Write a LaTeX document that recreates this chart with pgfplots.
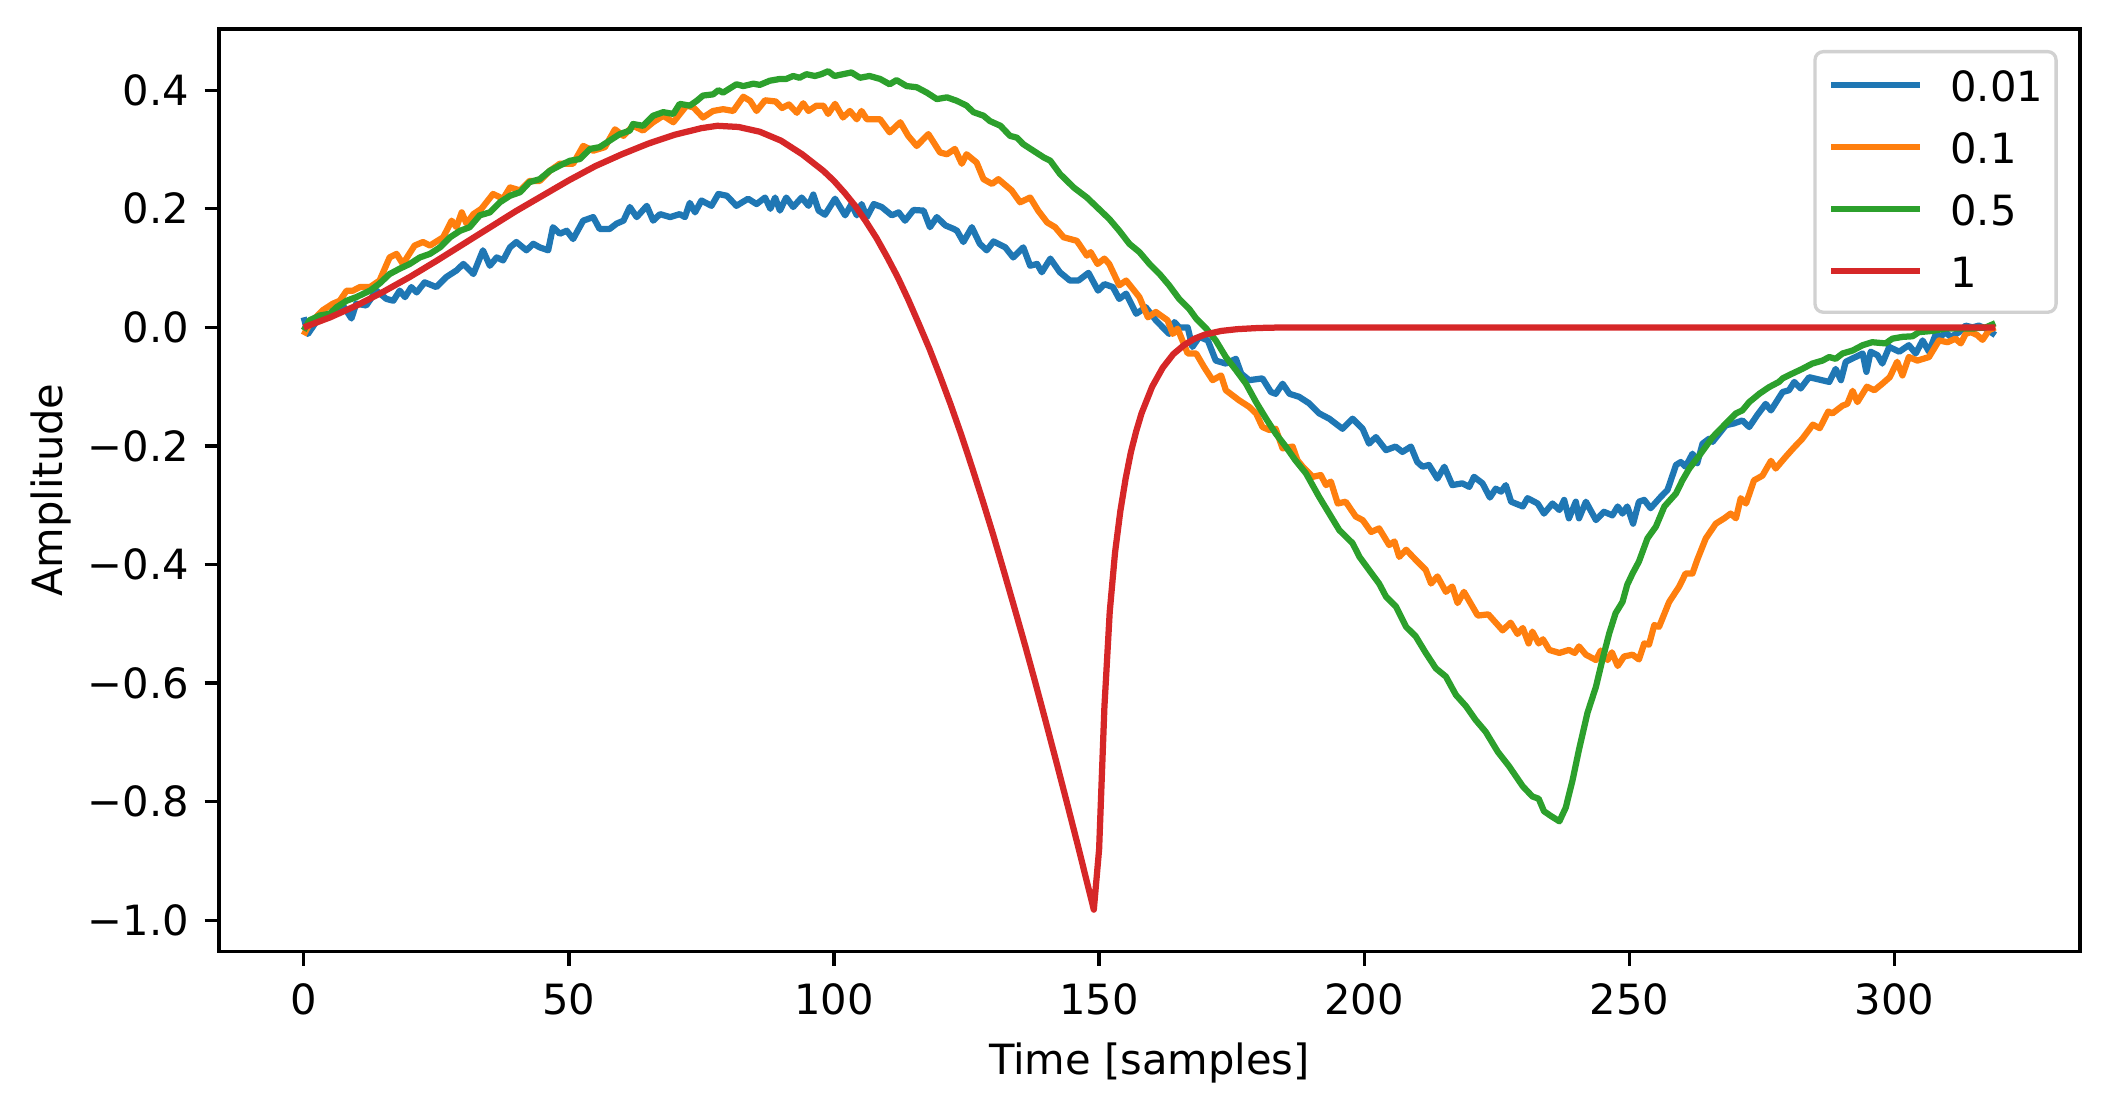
\documentclass[border=0pt]{standalone}
\usepackage{fontspec}
\setmainfont{DejaVu Sans}
\usepackage{pgfplots}
\pgfplotsset{compat=1.18}
\definecolor{cA}{RGB}{31,119,180}
\definecolor{cB}{RGB}{255,127,14}
\definecolor{cC}{RGB}{44,160,44}
\definecolor{cD}{RGB}{214,39,40}
\begin{document}
\begin{tikzpicture}
\begin{axis}[
  name=ax, at={(0,0)}, anchor=south west,
  scale only axis, width=446.6pt, height=221.3pt,
  xmin=-15.95, xmax=334.95, ymin=-1.052, ymax=0.503,
  axis line style={line width=0.8pt},
  every tick/.style={black, line width=0.8pt},
  tick align=outside, major tick length=3.5pt,
  tick pos=left,
  xtick={0,50,100,150,200,250,300},
  xticklabels={0,50,100,150,200,250,300},
  ytick={-1,-0.8,-0.6,-0.4,-0.2,0,0.2,0.4},
  yticklabels={−1.0,−0.8,−0.6,−0.4,−0.2,0.0,0.2,0.4},
  xticklabel style={anchor=base, yshift=-11.6pt},
  yticklabel style={anchor=east, inner xsep=0pt, xshift=-3.5pt},
  xlabel={Time [samples]}, ylabel={Amplitude},
  xlabel style={at={(axis description cs:0.5,-0.1333)}, anchor=base},
  ylabel style={at={(axis description cs:-0.0906,0.5)}, anchor=center},
  legend cell align=left,
  legend style={at={(axis description cs:1,1)}, anchor=north east, xshift=-5.3pt, yshift=-5pt,
    draw=black!18, line width=0.8pt, rounded corners=2pt, fill=white, fill opacity=0.8, text opacity=1,
    inner xsep=3.1pt, inner ysep=4.75pt, row sep=6.35pt, column sep=6.5pt,
    nodes={inner sep=0pt, text height=7.3pt, text depth=1.2pt}},
  legend image code/.code={\draw[#1, line width=1.5pt] (0pt,0.95pt) -- (21.4pt,0.95pt);},
  every axis plot/.append style={line width=1.5pt, line join=round},
]
\addplot[cA] coordinates {
(0,0.017) (0.8,-0.011) (2.1,0.006) (3.6,0.023) (4.9,0.017) (6.2,0.031) (7.4,0.037) (9.0,0.015) (9.9,0.040) (11.8,0.037)
(13.7,0.062) (15.6,0.048) (16.9,0.045) (18.1,0.062) (19.1,0.051) (20.3,0.068) (21.3,0.059) (22.8,0.076) (25.0,0.068) (26.9,0.085)
(28.8,0.096) (30.1,0.107) (30.7,0.102) (32.0,0.090) (33.8,0.130) (35.1,0.104) (36.4,0.118) (37.6,0.113) (38.9,0.135) (40.1,0.144)
(42.0,0.130) (43.3,0.141) (44.5,0.135) (46.1,0.130) (47.0,0.169) (48.3,0.158) (49.6,0.163) (50.8,0.149) (52.7,0.180) (54.6,0.186)
(55.8,0.166) (57.7,0.166) (59.0,0.175) (60.3,0.180) (61.5,0.203) (62.8,0.186) (64.7,0.205) (65.9,0.180) (67.2,0.191) (69.1,0.186)
(70.9,0.191) (71.9,0.186) (72.8,0.210) (73.8,0.194) (75.0,0.214) (76.9,0.205) (78.2,0.225) (79.8,0.222) (81.6,0.205) (83.8,0.217)
(85.4,0.208) (87.0,0.219) (88.0,0.200) (88.9,0.219) (89.8,0.197) (91.0,0.219) (92.3,0.203) (93.9,0.219) (95.2,0.205) (96.1,0.224)
(97.1,0.197) (98.3,0.190) (100.2,0.217) (102.1,0.189) (103.3,0.208) (104.3,0.189) (105.2,0.208) (106.2,0.186) (107.5,0.208) (109.0,0.203)
(110.9,0.189) (112.2,0.194) (113.4,0.180) (115.0,0.198) (116.9,0.197) (118.1,0.169) (119.4,0.186) (121.0,0.172) (122.6,0.166) (123.2,0.163)
(124.4,0.144) (126.0,0.169) (127.5,0.141) (128.8,0.130) (130.1,0.145) (132.3,0.135) (133.8,0.118) (135.7,0.135) (137.0,0.104) (138.3,0.107)
(139.2,0.093) (140.8,0.116) (142.6,0.093) (144.5,0.079) (146.1,0.079) (148.0,0.092) (149.8,0.062) (151.0,0.073) (152.6,0.068) (153.8,0.048)
(155.1,0.057) (157.0,0.023) (158.8,0.034) (160.7,0.012) (163.2,-0.011) (164.2,0.009) (165.1,0.000) (166.7,0.000) (167.6,-0.033) (168.9,-0.016)
(170.5,-0.022) (172.0,-0.056) (173.9,-0.061) (175.8,-0.053) (176.8,-0.078) (178.3,-0.089) (180.8,-0.086) (182.4,-0.109) (183.3,-0.112) (184.6,-0.095)
(185.9,-0.112) (187.7,-0.117) (189.6,-0.128) (191.5,-0.145) (193.4,-0.154) (195.9,-0.171) (197.8,-0.154) (199.7,-0.171) (200.9,-0.196) (202.2,-0.185)
(204.1,-0.207) (205.9,-0.201) (207.2,-0.210) (208.8,-0.201) (210.0,-0.227) (211.0,-0.235) (212.2,-0.232) (213.8,-0.255) (215.1,-0.235) (216.6,-0.266)
(218.5,-0.263) (219.8,-0.269) (220.7,-0.252) (222.3,-0.263) (223.7,-0.287) (224.8,-0.272) (225.8,-0.277) (226.7,-0.266) (227.7,-0.294) (229.9,-0.302)
(230.8,-0.288) (232.7,-0.297) (233.9,-0.314) (235.5,-0.297) (236.8,-0.308) (237.7,-0.291) (238.6,-0.322) (239.9,-0.294) (240.5,-0.322) (241.8,-0.294)
(243.7,-0.325) (245.2,-0.311) (246.8,-0.317) (247.8,-0.302) (248.7,-0.314) (249.6,-0.302) (250.7,-0.331) (251.8,-0.294) (252.8,-0.291) (254.0,-0.305)
(255.9,-0.286) (257.2,-0.274) (258.8,-0.232) (259.7,-0.227) (260.6,-0.235) (261.9,-0.213) (262.8,-0.229) (263.8,-0.196) (265.0,-0.188) (265.7,-0.193)
(268.2,-0.165) (269.7,-0.162) (271.3,-0.157) (272.6,-0.168) (274.1,-0.148) (275.7,-0.129) (276.7,-0.140) (278.9,-0.109) (280.1,-0.106) (281.1,-0.092)
(282.3,-0.103) (283.9,-0.084) (287.7,-0.092) (288.9,-0.070) (289.9,-0.089) (290.8,-0.058) (294.0,-0.044) (294.7,-0.075) (295.5,-0.041) (296.8,-0.047)
(297.7,-0.061) (299.0,-0.033) (300.9,-0.041) (302.7,-0.030) (304.0,-0.044) (305.3,-0.022) (306.5,-0.041) (307.8,-0.011) (308.7,-0.016) (309.6,-0.008)
(310.6,-0.016) (312.2,-0.008) (313.4,0.003) (314.7,0.000) (315.9,0.003) (317.2,-0.002) (319.0,-0.013)
};
\addplot[cB] coordinates {
(0,-0.013) (1.1,0.006) (3.6,0.029) (5.5,0.040) (6.8,0.045) (8.1,0.062) (9.3,0.062) (10.6,0.068) (12.5,0.068) (14.3,0.079)
(16.2,0.118) (17.5,0.124) (18.7,0.107) (20.9,0.138) (22.5,0.144) (23.8,0.138) (26.3,0.152) (27.9,0.180) (28.8,0.169) (29.8,0.194)
(30.7,0.175) (32.0,0.191) (33.5,0.200) (35.7,0.225) (37.6,0.217) (38.9,0.236) (40.8,0.231) (42.6,0.247) (44.5,0.247) (46.4,0.264)
(48.3,0.276) (50.8,0.276) (52.7,0.306) (54.6,0.298) (56.8,0.304) (58.7,0.334) (60.3,0.323) (62.1,0.340) (64.0,0.332) (65.9,0.346)
(67.8,0.357) (69.7,0.346) (72.2,0.374) (73.5,0.371) (75.3,0.354) (77.2,0.365) (79.1,0.368) (81.0,0.365) (82.9,0.389) (84.2,0.382)
(85.4,0.365) (87.0,0.383) (89.0,0.381) (90.2,0.370) (91.5,0.376) (93.0,0.362) (94.2,0.378) (95.2,0.365) (96.7,0.374) (98.0,0.374)
(98.9,0.360) (100.2,0.377) (101.7,0.354) (103.0,0.365) (104.3,0.351) (105.2,0.365) (106.2,0.351) (108.7,0.351) (110.5,0.329) (112.5,0.346)
(114.0,0.323) (115.6,0.306) (117.8,0.326) (120.0,0.295) (121.3,0.292) (122.8,0.301) (124.1,0.276) (125.0,0.292) (126.9,0.278) (128.2,0.250)
(129.8,0.242) (131.0,0.250) (133.5,0.231) (135.1,0.211) (137.0,0.219) (138.5,0.197) (140.2,0.177) (141.7,0.169) (143.3,0.152) (145.8,0.146)
(147.7,0.121) (148.4,0.127) (149.7,0.107) (151.0,0.116) (151.9,0.107) (153.8,0.071) (155.1,0.079) (157.6,0.051) (159.2,0.017) (160.7,0.026)
(162.9,0.012) (163.9,-0.011) (164.8,-0.002) (166.7,-0.044) (168.3,-0.044) (169.8,-0.067) (171.4,-0.089) (173.0,-0.081) (173.9,-0.106) (176.4,-0.123)
(178.3,-0.134) (179.6,-0.145) (180.8,-0.168) (182.1,-0.173) (183.3,-0.171) (184.6,-0.204) (186.5,-0.201) (187.4,-0.224) (188.4,-0.235) (190.3,-0.252)
(191.8,-0.249) (192.8,-0.266) (193.7,-0.260) (195.0,-0.297) (196.5,-0.294) (198.4,-0.319) (199.7,-0.325) (201.3,-0.345) (202.8,-0.339) (204.7,-0.367)
(205.7,-0.361) (206.6,-0.387) (207.9,-0.375) (209.7,-0.392) (211.6,-0.409) (212.6,-0.432) (213.8,-0.420) (215.4,-0.446) (216.6,-0.437) (217.6,-0.465)
(218.8,-0.446) (221.4,-0.486) (223.4,-0.484) (226.1,-0.511) (227.6,-0.498) (228.9,-0.517) (229.9,-0.507) (231.0,-0.533) (231.7,-0.513) (232.9,-0.533)
(233.7,-0.526) (234.9,-0.544) (236.8,-0.549) (238.6,-0.544) (239.7,-0.549) (240.5,-0.538) (241.8,-0.552) (243.7,-0.561) (244.6,-0.545) (245.9,-0.561)
(246.7,-0.548) (247.8,-0.571) (249.0,-0.555) (250.6,-0.552) (251.8,-0.560) (252.8,-0.533) (253.7,-0.535) (254.7,-0.502) (255.6,-0.505) (257.5,-0.463)
(259.4,-0.437) (260.6,-0.415) (261.9,-0.415) (262.8,-0.392) (264.4,-0.356) (266.3,-0.331) (267.9,-0.322) (269.1,-0.314) (270.1,-0.322) (271.0,-0.288)
(272.0,-0.297) (273.5,-0.258) (275.1,-0.250) (276.7,-0.225) (277.6,-0.238) (279.5,-0.218) (281.1,-0.202) (282.6,-0.188) (284.6,-0.164) (285.9,-0.170)
(287.5,-0.142) (288.3,-0.145) (290.2,-0.132) (291.1,-0.129) (292.1,-0.107) (293.0,-0.126) (294.8,-0.100) (296.2,-0.106) (297.7,-0.095) (299.1,-0.084)
(300.5,-0.058) (301.5,-0.081) (302.7,-0.050) (304.3,-0.056) (306.5,-0.050) (308.4,-0.022) (310.0,-0.025) (311.5,-0.019) (312.5,-0.027) (313.4,-0.011)
(314.4,-0.008) (315.6,-0.013) (316.6,-0.021) (317.8,-0.005) (319.0,0.000)
};
\addplot[cC] coordinates {
(0,-0.005) (1.1,0.012) (3.0,0.020) (4.9,0.023) (6.2,0.034) (8.1,0.045) (9.9,0.051) (12.5,0.062) (14.3,0.074) (16.2,0.090)
(18.1,0.099) (20.0,0.107) (21.9,0.118) (23.8,0.124) (25.7,0.135) (27.6,0.152) (29.5,0.163) (31.3,0.169) (33.2,0.189) (35.1,0.194)
(37.0,0.211) (38.9,0.222) (40.8,0.228) (42.6,0.245) (44.5,0.250) (46.4,0.264) (48.3,0.273) (50.2,0.281) (52.1,0.284) (54.0,0.301)
(55.8,0.304) (57.7,0.315) (59.6,0.326) (61.5,0.332) (62.1,0.343) (64.0,0.340) (65.9,0.357) (67.8,0.363) (69.7,0.360) (70.9,0.377)
(72.8,0.374) (74.1,0.382) (75.3,0.391) (77.2,0.393) (78.2,0.400) (79.1,0.396) (81.6,0.410) (82.9,0.407) (84.8,0.411) (86.0,0.409)
(87.9,0.416) (89.8,0.419) (91.0,0.419) (92.3,0.424) (93.5,0.421) (94.8,0.427) (96.4,0.424) (97.6,0.427) (98.9,0.432) (100.1,0.424)
(101.7,0.427) (103.3,0.430) (104.9,0.421) (106.7,0.424) (108.7,0.419) (110.5,0.410) (111.8,0.417) (113.7,0.407) (115.6,0.405) (117.5,0.396)
(119.4,0.385) (121.3,0.388) (123.2,0.382) (125.0,0.374) (126.3,0.363) (128.2,0.357) (129.4,0.348) (131.4,0.340) (133.2,0.323) (134.5,0.320)
(135.7,0.309) (137.6,0.298) (139.5,0.287) (140.8,0.281) (142.6,0.259) (145.2,0.236) (147.7,0.219) (149.8,0.201) (151.9,0.183) (153.8,0.163)
(155.7,0.141) (157.6,0.127) (159.5,0.107) (161.4,0.090) (163.2,0.071) (165.1,0.048) (167.0,0.031) (168.3,0.015) (170.2,-0.002) (172.0,-0.022)
(173.9,-0.050) (175.8,-0.072) (177.7,-0.095) (179.6,-0.126) (181.5,-0.154) (183.3,-0.179) (185.2,-0.201) (187.0,-0.224) (189.0,-0.246) (191.5,-0.286)
(193.4,-0.314) (195.3,-0.342) (197.8,-0.364) (199.1,-0.387) (200.9,-0.409) (202.8,-0.432) (204.1,-0.454) (206.0,-0.471) (207.9,-0.505) (209.7,-0.521)
(211.6,-0.549) (213.5,-0.575) (215.4,-0.589) (217.3,-0.620) (219.2,-0.639) (221.0,-0.662) (222.9,-0.682) (225.2,-0.716) (227.3,-0.740) (229.9,-0.774)
(231.7,-0.791) (232.9,-0.795) (233.9,-0.816) (235.2,-0.824) (236.8,-0.833) (238.0,-0.810) (239.3,-0.763) (240.5,-0.712) (242.1,-0.650) (243.7,-0.606)
(244.9,-0.561) (246.2,-0.516) (247.4,-0.482) (248.7,-0.463) (249.6,-0.434) (250.6,-0.415) (251.8,-0.395) (253.4,-0.356) (255.0,-0.336) (256.6,-0.302)
(258.8,-0.280) (260.0,-0.258) (261.3,-0.238) (263.2,-0.216) (265.7,-0.185) (268.2,-0.162) (270.1,-0.145) (271.3,-0.140) (272.6,-0.126) (274.5,-0.112)
(276.3,-0.101) (278.2,-0.092) (278.9,-0.086) (280.7,-0.078) (282.6,-0.070) (284.5,-0.061) (286.4,-0.056) (287.7,-0.050) (288.9,-0.053) (290.2,-0.044)
(292.1,-0.039) (294.0,-0.030) (295.8,-0.025) (298.3,-0.027) (299.6,-0.019) (301.5,-0.016) (303.4,-0.015) (304.6,-0.008) (307.1,-0.006) (309.6,-0.002)
(312.2,-0.002) (314.7,-0.002) (317.2,0.000) (319.0,0.007)
};
\addplot[cD] coordinates {
(0,0) (5,0.017) (10,0.037) (15,0.060) (20,0.085) (25,0.112) (30,0.140) (35,0.168) (40,0.196) (45,0.222)
(50,0.248) (55,0.272) (60,0.292) (65,0.310) (70,0.325) (75,0.336) (78,0.340) (82,0.338) (86,0.330) (90,0.315)
(94,0.292) (98,0.264) (100,0.247) (102,0.227) (104,0.205) (106,0.179) (108,0.151) (110,0.119) (112,0.085) (114,0.047)
(116,0.006) (118,-0.036) (120,-0.082) (122,-0.130) (124,-0.181) (126,-0.235) (128,-0.291) (130,-0.349) (132,-0.410) (134,-0.472)
(136,-0.535) (138,-0.600) (140,-0.667) (142,-0.735) (144,-0.804) (146,-0.874) (148,-0.946) (149,-0.982) (150,-0.88) (151,-0.64)
(152,-0.48) (153,-0.38) (154,-0.31) (155,-0.255) (156,-0.21) (157,-0.175) (158,-0.145) (160,-0.100) (162,-0.068) (164,-0.045)
(166,-0.030) (168,-0.019) (170,-0.012) (173,-0.006) (176,-0.003) (180,-0.001) (185,0) (319,0)
};
\legend{0.01,0.1,0.5,1}
\end{axis}
\pgfresetboundingbox
\path[use as bounding box] (-52.6pt,-38.9pt) rectangle (453.6pt,228.3pt);
\end{tikzpicture}
\end{document}
